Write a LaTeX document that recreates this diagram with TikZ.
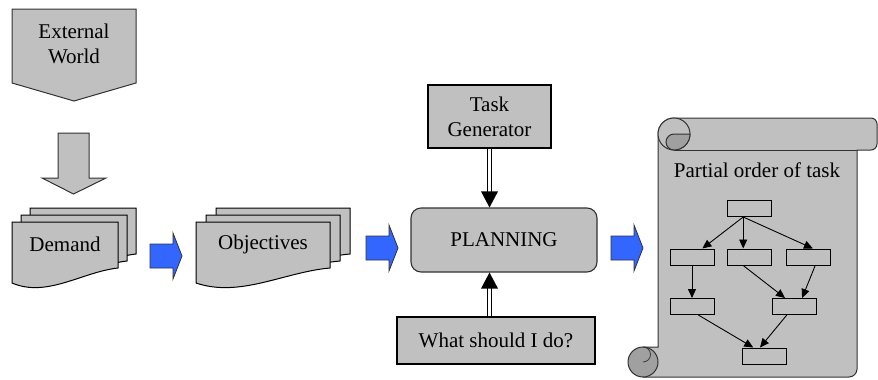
\documentclass[tikz,border=0pt]{standalone}
\usepackage{fontspec}
\setmainfont{Liberation Serif}
\newfontfamily\tnrfont{Liberation Serif}
\usetikzlibrary{arrows.meta,calc}
\definecolor{boxgray}{RGB}{192,192,192}
\definecolor{curlgray}{RGB}{160,160,160}
\definecolor{arrowblue}{RGB}{51,102,255}
\definecolor{edge}{RGB}{50,50,50}
\newcommand\docpage[3]{%
  \draw[pagestyle, shift={(#1,#2)}] (0,0) -- (#3,0) -- (#3,46)
    .. controls ({0.66*#3},50) and ({0.33*#3},76) .. (0,61) -- cycle;}
\newcommand\blockarrow[2]{%
  \draw[bluearrow, shift={(#1,#2)}] (0,-12) -- (23,-12) -- (23,-23) -- (32,0) -- (23,23) -- (23,12) -- (0,12) -- cycle;}
\begin{document}
\begin{tikzpicture}[x=1pt,y=-1pt,
  txt/.style={font=\tnrfont\fontsize{21}{25}\selectfont, align=center, inner sep=0pt},
  graybox/.style={txt, draw=black, line width=1.1pt, fill=boxgray},
  pagestyle/.style={draw=black, line width=1pt, fill=boxgray},
  shapeline/.style={draw=edge, line width=1pt, fill=boxgray},
  bluearrow/.style={draw=black!80, line width=0.8pt, fill=arrowblue},
  tbox/.style={draw=black, line width=1pt, fill=boxgray, minimum width=44pt, minimum height=16pt, inner sep=0pt},
  tarrow/.style={draw=black, line width=0.9pt, -{Triangle[length=9pt,width=8pt]}},
  dbl/.style={draw=black, line width=0.9pt, double=white, double distance=3.6pt},
  scrollline/.style={draw=edge, line width=1pt}
  ]
\useasboundingbox (0,0) rectangle (878,380);

% External world
\draw[shapeline] (12,9) -- (136,9) -- (136,83) -- (74,101) -- (12,83) -- cycle;
\node[txt] (ew) at (74,44) {External\\World};
% down block arrow
\draw[shapeline] (58,133) -- (89,133) -- (89,178) -- (106,178) -- (73.5,194) -- (42,178) -- (58,178) -- cycle;

% Demand stack
\docpage{30}{208}{106}
\docpage{21}{215}{106}
\docpage{12}{222}{106}
\node[txt] (dem) at (65,244) {Demand};

% Objectives stack
\docpage{216}{208}{134}
\docpage{206}{215}{134}
\docpage{196}{222}{134}
\node[txt] (obj) at (263,244) {Objectives};

% blue arrows
\blockarrow{150}{256}
\blockarrow{366}{248}
\blockarrow{611}{248}

% planning
\node[graybox, draw=edge, rounded corners=10pt, minimum width=186pt, minimum height=64pt] (pl) at (504,240) {PLANNING};
\node[graybox, minimum width=123pt, minimum height=63pt] (tg) at (489.5,116.5) {Task\\Generator};
\node[graybox, minimum width=198pt, minimum height=47pt] (wq) at (496,340.5) {What should I do?};

\draw[dbl] (tg.south) -- ($(tg.south |- pl.north)+(0,-15)$);
\fill[black] (tg.south |- pl.north) -- ++(-8.5,-16) -- ++(17,0) -- cycle;
\draw[dbl] (wq.north -| tg.south) -- ($(pl.south -| tg.south)+(0,15)$);
\fill[black] (pl.south -| tg.south) -- ++(-8.5,16) -- ++(17,0) -- cycle;

% scroll
\draw[scrollline, fill=boxgray] (674,118) -- (871,118) arc[start angle=-90, end angle=0, radius=6]
  -- (877,144) arc[start angle=0, end angle=90, radius=6] -- (857,150) -- (857,369)
  arc[start angle=0, end angle=90, radius=8] -- (643,377) -- (643,347) -- (658,347) -- (658,134)
  arc[start angle=180, end angle=270, radius=16] -- cycle;
\draw[scrollline] (857,150) -- (674,150);
\draw[scrollline, fill=boxgray] (674,134) circle[radius=16];
\draw[scrollline, fill=curlgray] (674,134) -- (690,134) arc[start angle=0, end angle=90, radius=16]
  arc[start angle=90, end angle=270, radius=8] -- cycle;
\draw[scrollline, fill=curlgray] (643,362) circle[radius=15];
\draw[scrollline, line width=0.7pt] (643,347) arc[start angle=-90, end angle=90, radius=7.5];

\node[txt] (pot) at (757,170) {Partial order of task};

\node[tbox] (t0) at (749.5,208.5) {};
\node[tbox] (r1) at (692,257) {};
\node[tbox] (r2) at (749.5,257) {};
\node[tbox] (r3) at (808,257) {};
\node[tbox] (s1) at (692,306.5) {};
\node[tbox] (s2) at (794,306.5) {};
\node[tbox] (bb) at (764.5,356) {};

\draw[tarrow] ($(t0.south west)!0.36!(t0.south east)$) -- ($(r1.north west)!0.73!(r1.north east)$);
\draw[tarrow] ($(t0.south west)!0.36!(t0.south east)$) -- ($(r2.north west)!0.36!(r2.north east)$);
\draw[tarrow] ($(t0.south west)!0.36!(t0.south east)$) -- ($(r3.north west)!0.61!(r3.north east)$);
\draw[tarrow] (r1.south) -- (s1.north);
\draw[tarrow] ($(r2.south west)!0.36!(r2.south east)$) -- ($(s2.north west)!0.3!(s2.north east)$);
\draw[tarrow] ($(r3.south west)!0.66!(r3.south east)$) -- ($(s2.north west)!0.68!(s2.north east)$);
\draw[tarrow] ($(s1.south west)!0.64!(s1.south east)$) -- ($(bb.north west)!0.25!(bb.north east)$);
\draw[tarrow] ($(s2.south west)!0.34!(s2.south east)$) -- ($(bb.north west)!0.4!(bb.north east)$);
\end{tikzpicture}
\end{document}
